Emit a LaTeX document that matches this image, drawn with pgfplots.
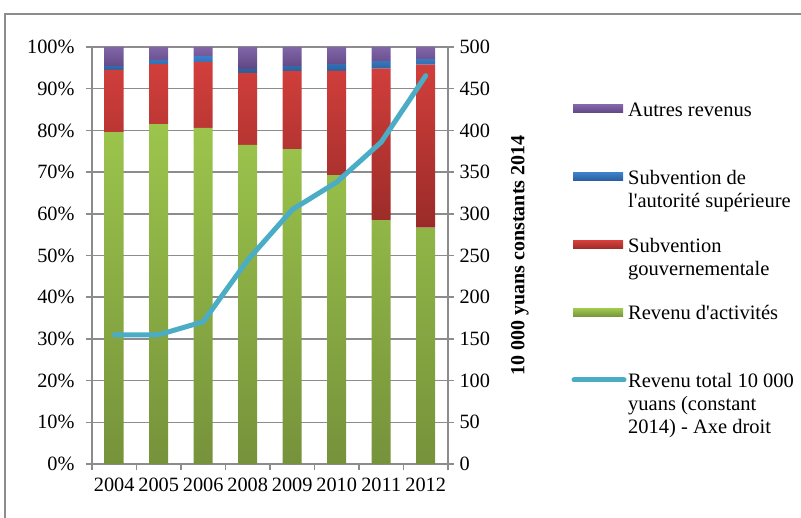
\documentclass[border=0pt]{standalone}
\usepackage{fontspec}
\setmainfont{Liberation Serif}
\usepackage{pgfplots}
\pgfplotsset{compat=1.18}

\definecolor{gridgray}{HTML}{8C8C8C}
\definecolor{greenT}{HTML}{9CC54C}
\definecolor{greenB}{HTML}{76923B}
\definecolor{redT}{HTML}{D23F3C}
\definecolor{redB}{HTML}{9A2B28}
\definecolor{blueT}{HTML}{3D7FC8}
\definecolor{blueB}{HTML}{2A5C98}
\definecolor{purpT}{HTML}{8165A8}
\definecolor{purpB}{HTML}{5E4682}
\definecolor{lineblue}{HTML}{4BACC6}

\pgfplotsset{
  common/.style={
    scale only axis,
    width=356pt, height=417pt,
    at={(92pt,-464pt)}, anchor=south west,
    xmin=-0.5, xmax=7.5,
    /pgf/number format/assume math mode=true,
    tick label style={font=\fontsize{20.3}{23}\selectfont},
    axis line style={gridgray, line width=1.5pt},
    every tick/.style={gridgray, line width=1.5pt},
  }
}

\begin{document}
\begin{tikzpicture}[x=1pt,y=1pt]
\useasboundingbox (0,0) rectangle (801,-518);
\draw[gridgray, line width=2pt] (5,-520) -- (5,-14) -- (803,-14);

\begin{axis}[
  common,
  ybar stacked,
  bar width=19pt,
  ymin=0, ymax=100,
  ytick={0,10,...,100},
  yticklabel={\pgfmathprintnumber{\tick}\%},
  ymajorgrids,
  major grid style={gridgray, line width=1.5pt},
  axis y line*=left,
  axis x line*=bottom,
  xtick={0,...,7},
  xticklabels={2004,2005,2006,2008,2009,2010,2011,2012},
  major x tick style={draw=none},
  minor xtick={-0.5,0.5,...,7.5},
  minor x tick style={gridgray, line width=1.5pt},
  minor tick length=6pt,
  major tick length=6pt,
  tick align=outside,
  xticklabel style={yshift=-4pt},
  yticklabel style={xshift=-8pt},
]
% Revenu d'activites
\addplot[draw=none, shading=axis, top color=greenT, bottom color=greenB] coordinates {
  (0,79.6) (1,81.5) (2,80.6) (3,76.5) (4,75.5) (5,69.3) (6,58.5) (7,56.7)};
% Subvention gouvernementale
\addplot[draw=none, shading=axis, top color=redT, bottom color=redB] coordinates {
  (0,14.9) (1,14.4) (2,15.8) (3,17.3) (4,18.8) (5,25.0) (6,36.3) (7,39.1)};
% Subvention de l'autorite superieure
\addplot[draw=none, shading=axis, top color=blueT, bottom color=blueB] coordinates {
  (0,0.9) (1,1.0) (2,1.4) (3,0.9) (4,1.1) (5,1.6) (6,1.8) (7,1.3)};
% Autres revenus
\addplot[draw=none, shading=axis, top color=purpT, bottom color=purpB] coordinates {
  (0,4.6) (1,3.1) (2,2.2) (3,5.3) (4,4.6) (5,4.1) (6,3.4) (7,2.9)};
\end{axis}

\begin{axis}[
  common,
  ymin=0, ymax=500,
  ytick={0,50,...,500},
  axis y line*=right,
  axis x line=none,
  major tick length=6pt,
  tick align=outside,
  yticklabel style={xshift=2pt},
  ylabel={10~000 yuans constants 2014},
  ylabel style={at={(axis description cs:1.2022,0.5)}, anchor=center,
    font=\fontsize{20}{22}\selectfont\bfseries},
]
\addplot[lineblue, line width=5pt, line cap=round, line join=round] coordinates {
  (0,154.7) (1,155) (2,170.6) (3,244.6) (4,305) (5,338) (6,386) (7,465.6)};
\end{axis}

% legend
\begin{scope}[every node/.style={anchor=base west, inner sep=0pt,
    font=\fontsize{20.5}{23}\selectfont}]
\fill[top color=purpT, bottom color=purpB] (573,-105) rectangle (623,-113);
\node at (628,-117) {Autres revenus};
\fill[top color=blueT, bottom color=blueB] (573,-173) rectangle (623,-181);
\node at (628,-185) {Subvention de};
\node at (628,-208) {l\textquotesingle autorité supérieure};
\fill[top color=redT, bottom color=redB] (573,-241) rectangle (623,-249);
\node at (628,-253) {Subvention};
\node at (628,-276) {gouvernementale};
\fill[top color=greenT, bottom color=greenB] (573,-309) rectangle (623,-317);
\node at (628,-320) {Revenu d\textquotesingle activités};
\draw[lineblue, line width=5pt, line cap=round] (574,-380) -- (624,-380);
\node at (628,-388) {Revenu total 10~000};
\node at (628,-411) {yuans (constant};
\node at (628,-434) {2014) - Axe droit};
\end{scope}
\end{tikzpicture}
\end{document}
